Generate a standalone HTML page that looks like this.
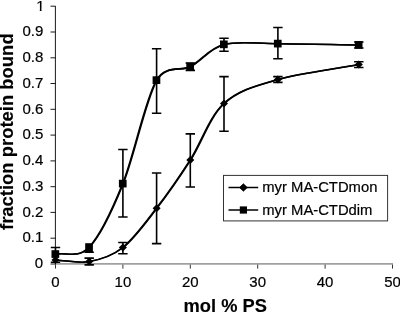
<!DOCTYPE html><html><head><meta charset="utf-8"><style>html,body{margin:0;padding:0;background:#fff}svg{display:block}</style></head><body>
<svg width="400" height="314" viewBox="0 0 400 314">
<rect width="400" height="314" fill="#fff"/>
<path d="M55 263.9H393" stroke="#a0a0a0" stroke-width="1.8" fill="none"/>
<path d="M55.5 264.6V268.6" stroke="#333" stroke-width="1" fill="none"/>
<path d="M122.9 264.6V268.6" stroke="#333" stroke-width="1" fill="none"/>
<path d="M190.3 264.6V268.6" stroke="#333" stroke-width="1" fill="none"/>
<path d="M257.7 264.6V268.6" stroke="#333" stroke-width="1" fill="none"/>
<path d="M325.1 264.6V268.6" stroke="#333" stroke-width="1" fill="none"/>
<path d="M392.5 264.6V268.6" stroke="#333" stroke-width="1" fill="none"/>
<path d="M55.4 6.1V264.5" stroke="#1a1a1a" stroke-width="1" fill="none"/>
<path d="M50.5 264.0H55.6" stroke="#1a1a1a" stroke-width="1" fill="none"/>
<path d="M50.5 238.2H55.6" stroke="#1a1a1a" stroke-width="1" fill="none"/>
<path d="M50.5 212.4H55.6" stroke="#1a1a1a" stroke-width="1" fill="none"/>
<path d="M50.5 186.7H55.6" stroke="#1a1a1a" stroke-width="1" fill="none"/>
<path d="M50.5 160.9H55.6" stroke="#1a1a1a" stroke-width="1" fill="none"/>
<path d="M50.5 135.1H55.6" stroke="#1a1a1a" stroke-width="1" fill="none"/>
<path d="M50.5 109.3H55.6" stroke="#1a1a1a" stroke-width="1" fill="none"/>
<path d="M50.5 83.5H55.6" stroke="#1a1a1a" stroke-width="1" fill="none"/>
<path d="M50.5 57.8H55.6" stroke="#1a1a1a" stroke-width="1" fill="none"/>
<path d="M50.5 32.0H55.6" stroke="#1a1a1a" stroke-width="1" fill="none"/>
<path d="M50.5 6.2H55.6" stroke="#1a1a1a" stroke-width="1" fill="none"/>
<path d="M89.2 258.1V264.9M84.5 258.1H93.9M84.5 264.9H93.9" stroke="#000" stroke-width="1.6" fill="none"/>
<path d="M122.9 242.5V253.8M118.2 242.5H127.6M118.2 253.8H127.6" stroke="#000" stroke-width="1.6" fill="none"/>
<path d="M156.6 173.0V243.6M151.9 173.0H161.3M151.9 243.6H161.3" stroke="#000" stroke-width="1.6" fill="none"/>
<path d="M190.3 133.9V187.0M185.6 133.9H195.0M185.6 187.0H195.0" stroke="#000" stroke-width="1.6" fill="none"/>
<path d="M224.0 76.6V131.2M219.3 76.6H228.7M219.3 131.2H228.7" stroke="#000" stroke-width="1.6" fill="none"/>
<path d="M277.9 76.6V82.4M273.2 76.6H282.6M273.2 82.4H282.6" stroke="#000" stroke-width="1.6" fill="none"/>
<path d="M358.8 61.8V67.5M354.1 61.8H363.5M354.1 67.5H363.5" stroke="#000" stroke-width="1.6" fill="none"/>
<path d="M55.5 247.5V262.2M50.8 247.5H60.2M50.8 262.2H60.2" stroke="#000" stroke-width="1.6" fill="none"/>
<path d="M89.2 247.2V252.2M84.5 252.2H93.9" stroke="#000" stroke-width="1.6" fill="none"/>
<path d="M122.9 149.5V217.0M118.2 149.5H127.6M118.2 217.0H127.6" stroke="#000" stroke-width="1.6" fill="none"/>
<path d="M156.6 48.8V113.2M151.9 48.8H161.3M151.9 113.2H161.3" stroke="#000" stroke-width="1.6" fill="none"/>
<path d="M190.3 63.0V70.4M185.6 63.0H195.0M185.6 70.4H195.0" stroke="#000" stroke-width="1.6" fill="none"/>
<path d="M224.0 38.2V51.2M219.3 38.2H228.7M219.3 51.2H228.7" stroke="#000" stroke-width="1.6" fill="none"/>
<path d="M277.9 27.5V58.8M273.2 27.5H282.6M273.2 58.8H282.6" stroke="#000" stroke-width="1.6" fill="none"/>
<path d="M358.8 42.0V48.0M354.1 42.0H363.5M354.1 48.0H363.5" stroke="#000" stroke-width="1.6" fill="none"/>
<g stroke="#000" stroke-width="1.55" fill="none" stroke-linejoin="round"><path transform="translate(-0.35 0)" d="M55.50 259.90 C66.73 260.47 77.97 263.67 89.20 261.60 C100.43 259.53 111.67 256.38 122.90 247.50 C134.13 238.62 145.37 222.87 156.60 208.30 C167.83 193.73 179.07 177.57 190.30 160.10 C201.53 142.63 209.40 116.93 224.00 103.50 C238.60 90.07 255.45 86.00 277.92 79.50 C300.39 73.00 331.84 69.50 358.80 64.50"/><path transform="translate(0.35 0)" d="M55.50 259.90 C66.73 260.47 77.97 263.67 89.20 261.60 C100.43 259.53 111.67 256.38 122.90 247.50 C134.13 238.62 145.37 222.87 156.60 208.30 C167.83 193.73 179.07 177.57 190.30 160.10 C201.53 142.63 209.40 116.93 224.00 103.50 C238.60 90.07 255.45 86.00 277.92 79.50 C300.39 73.00 331.84 69.50 358.80 64.50"/></g>
<g stroke="#000" stroke-width="1.55" fill="none" stroke-linejoin="round"><path transform="translate(-0.35 0)" d="M55.50 254.20 C66.73 251.87 77.97 258.94 89.20 247.20 C100.43 235.46 111.67 211.57 122.90 183.75 C134.13 155.93 145.37 99.81 156.60 80.30 C165.67 64.55 181.23 71.52 190.30 66.70 C201.53 60.73 209.40 48.32 224.00 44.50 C238.60 40.68 255.45 43.67 277.92 43.75 C300.39 43.83 331.84 44.58 358.80 45.00"/><path transform="translate(0.35 0)" d="M55.50 254.20 C66.73 251.87 77.97 258.94 89.20 247.20 C100.43 235.46 111.67 211.57 122.90 183.75 C134.13 155.93 145.37 99.81 156.60 80.30 C165.67 64.55 181.23 71.52 190.30 66.70 C201.53 60.73 209.40 48.32 224.00 44.50 C238.60 40.68 255.45 43.67 277.92 43.75 C300.39 43.83 331.84 44.58 358.80 45.00"/></g>
<path d="M51.5 259.9L55.5 255.9L59.5 259.9L55.5 263.9Z" fill="#000"/>
<path d="M85.2 261.6L89.2 257.6L93.2 261.6L89.2 265.6Z" fill="#000"/>
<path d="M118.9 247.5L122.9 243.5L126.9 247.5L122.9 251.5Z" fill="#000"/>
<path d="M152.6 208.3L156.6 204.3L160.6 208.3L156.6 212.3Z" fill="#000"/>
<path d="M186.3 160.1L190.3 156.1L194.3 160.1L190.3 164.1Z" fill="#000"/>
<path d="M220.0 103.5L224.0 99.5L228.0 103.5L224.0 107.5Z" fill="#000"/>
<path d="M273.9 79.5L277.9 75.5L281.9 79.5L277.9 83.5Z" fill="#000"/>
<path d="M354.8 64.5L358.8 60.5L362.8 64.5L358.8 68.5Z" fill="#000"/>
<rect x="51.50" y="250.20" width="7.7" height="7.7" fill="#000"/>
<rect x="85.20" y="243.20" width="7.7" height="9.0" fill="#000"/>
<rect x="118.90" y="179.75" width="7.7" height="7.7" fill="#000"/>
<rect x="152.60" y="76.30" width="7.7" height="7.7" fill="#000"/>
<rect x="186.30" y="62.70" width="7.7" height="7.7" fill="#000"/>
<rect x="220.00" y="40.50" width="7.7" height="7.7" fill="#000"/>
<rect x="273.92" y="39.75" width="7.7" height="7.7" fill="#000"/>
<rect x="354.80" y="41.00" width="7.7" height="7.7" fill="#000"/>
<rect x="223.5" y="175.4" width="164.1" height="45.5" fill="#fff" stroke="#333" stroke-width="1"/>
<path d="M228.5 187.5H258.2M228.5 210H258.2" stroke="#000" stroke-width="1.5" fill="none"/>
<path d="M239.5 187.5L243.4 183.8L247.3 187.5L243.4 191.2Z" fill="#000" stroke="#000" stroke-width="0.8" stroke-linejoin="round"/>
<rect x="239.8" y="206.4" width="7.2" height="7.2" fill="#000"/>
<text x="262.3" y="192.1" font-family="Liberation Sans, Arial, Helvetica, sans-serif" stroke="#000" stroke-width="0.2" font-size="14.8" fill="#000">myr MA-CTDmon</text>
<text x="262.3" y="214.9" font-family="Liberation Sans, Arial, Helvetica, sans-serif" stroke="#000" stroke-width="0.2" font-size="14.8" fill="#000">myr MA-CTDdim</text>
<text x="43.1" y="268.2" font-family="Liberation Sans, Arial, Helvetica, sans-serif" stroke="#000" stroke-width="0.2" font-size="15" text-anchor="end" fill="#000">0</text>
<text x="43.4" y="242.4" font-family="Liberation Sans, Arial, Helvetica, sans-serif" stroke="#000" stroke-width="0.2" font-size="15" text-anchor="end" fill="#000">0.1</text>
<text x="43.4" y="216.6" font-family="Liberation Sans, Arial, Helvetica, sans-serif" stroke="#000" stroke-width="0.2" font-size="15" text-anchor="end" fill="#000">0.2</text>
<text x="43.4" y="190.9" font-family="Liberation Sans, Arial, Helvetica, sans-serif" stroke="#000" stroke-width="0.2" font-size="15" text-anchor="end" fill="#000">0.3</text>
<text x="43.4" y="165.1" font-family="Liberation Sans, Arial, Helvetica, sans-serif" stroke="#000" stroke-width="0.2" font-size="15" text-anchor="end" fill="#000">0.4</text>
<text x="43.4" y="139.3" font-family="Liberation Sans, Arial, Helvetica, sans-serif" stroke="#000" stroke-width="0.2" font-size="15" text-anchor="end" fill="#000">0.5</text>
<text x="43.4" y="113.5" font-family="Liberation Sans, Arial, Helvetica, sans-serif" stroke="#000" stroke-width="0.2" font-size="15" text-anchor="end" fill="#000">0.6</text>
<text x="43.4" y="87.7" font-family="Liberation Sans, Arial, Helvetica, sans-serif" stroke="#000" stroke-width="0.2" font-size="15" text-anchor="end" fill="#000">0.7</text>
<text x="43.4" y="62.0" font-family="Liberation Sans, Arial, Helvetica, sans-serif" stroke="#000" stroke-width="0.2" font-size="15" text-anchor="end" fill="#000">0.8</text>
<text x="43.4" y="36.2" font-family="Liberation Sans, Arial, Helvetica, sans-serif" stroke="#000" stroke-width="0.2" font-size="15" text-anchor="end" fill="#000">0.9</text>
<clipPath id="c1"><path d="M30 -2H46V8.8H41.6V12H39.8V8.8H30Z"/></clipPath>
<text x="44.7" y="10.8" font-family="Liberation Sans, Arial, Helvetica, sans-serif" stroke="#000" stroke-width="0.2" font-size="15" text-anchor="end" fill="#000" clip-path="url(#c1)">1</text>
<text x="55.5" y="287" font-family="Liberation Sans, Arial, Helvetica, sans-serif" stroke="#000" stroke-width="0.2" font-size="15" text-anchor="middle" fill="#000">0</text>
<text x="122.9" y="287" font-family="Liberation Sans, Arial, Helvetica, sans-serif" stroke="#000" stroke-width="0.2" font-size="15" text-anchor="middle" fill="#000">10</text>
<text x="190.3" y="287" font-family="Liberation Sans, Arial, Helvetica, sans-serif" stroke="#000" stroke-width="0.2" font-size="15" text-anchor="middle" fill="#000">20</text>
<text x="257.7" y="287" font-family="Liberation Sans, Arial, Helvetica, sans-serif" stroke="#000" stroke-width="0.2" font-size="15" text-anchor="middle" fill="#000">30</text>
<text x="325.1" y="287" font-family="Liberation Sans, Arial, Helvetica, sans-serif" stroke="#000" stroke-width="0.2" font-size="15" text-anchor="middle" fill="#000">40</text>
<text x="392.5" y="287" font-family="Liberation Sans, Arial, Helvetica, sans-serif" stroke="#000" stroke-width="0.2" font-size="15" text-anchor="middle" fill="#000">50</text>
<text x="183.6" y="312" font-family="Liberation Sans, Arial, Helvetica, sans-serif" stroke="#000" stroke-width="0.15" font-size="18.3" font-weight="bold" fill="#000">mol % PS</text>
<text transform="translate(13 230) rotate(-90)" font-family="Liberation Sans, Arial, Helvetica, sans-serif" stroke="#000" stroke-width="0.15" font-size="18.45" font-weight="bold" fill="#000">fraction protein bound</text>
</svg>
</body></html>
